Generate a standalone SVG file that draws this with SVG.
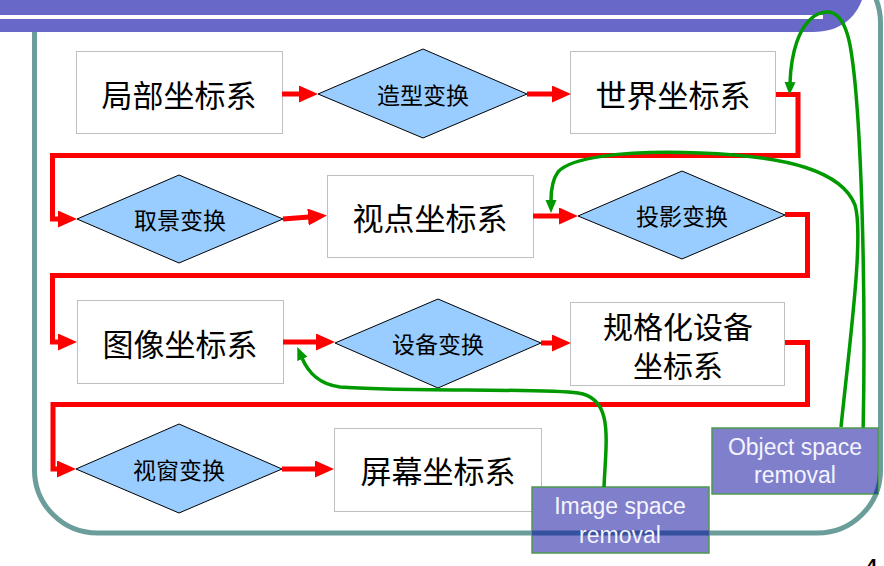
<svg xmlns="http://www.w3.org/2000/svg" width="884" height="566" viewBox="0 0 884 566">
<style>
.box{fill:#fff;stroke:#bfbfbf;stroke-width:1}
.dia{fill:#99ccff;stroke:#000;stroke-width:1}
.t1{font-family:"Noto Sans CJK SC","Noto Sans",sans-serif;font-size:31px;fill:#000;text-anchor:middle;dominant-baseline:central}
.t3{font-family:"Noto Sans CJK SC","Noto Sans",sans-serif;font-size:30px;fill:#000;text-anchor:middle;dominant-baseline:central}
.t2{font-family:"Noto Sans CJK SC","Noto Sans",sans-serif;font-size:23px;fill:#000;text-anchor:middle;dominant-baseline:central}
.red{fill:none;stroke:#ff0000;stroke-width:5;stroke-linejoin:miter}
.grn{fill:none;stroke:#009900;stroke-width:3.5}
.lbl{fill:#7f7fcb;stroke:#4e9a4e;stroke-width:1.5}
.lt{font-family:"Liberation Sans",Arial,sans-serif;font-size:23px;fill:#f4f4ff;text-anchor:middle}
</style>
<defs>
<marker id="ar" markerUnits="userSpaceOnUse" markerWidth="22" markerHeight="20" refX="1" refY="8.5" orient="auto">
<path d="M0,0 L19,8.5 L0,17 z" fill="#ff0000"/>
</marker>
<marker id="ag" markerUnits="userSpaceOnUse" markerWidth="14" markerHeight="12" refX="1" refY="5.5" orient="auto">
<path d="M0,0 L13,5.5 L0,11 z" fill="#009900"/>
</marker>
<clipPath id="lblclip">
<rect x="532" y="487" width="177" height="66"/>
<rect x="712" y="428" width="166" height="66"/>
</clipPath>
</defs>

<g id="frame">
<rect x="34.5" y="-40" width="846" height="573" rx="63" ry="63" fill="none" stroke="#6b9e9b" stroke-width="5"/>
</g>
<g id="topbar">
<path d="M0,0 H862 C855,18 840,32 813,32 H0 z" fill="#6868c8"/>
<rect x="0" y="15" width="823" height="4" fill="#fff"/>
</g>

<g id="n1"><rect class="box" x="76.5" y="51.5" width="206" height="82"/><text class="t1" x="179" y="93">局部坐标系</text></g>
<g id="n2"><polygon class="dia" points="318,94 423,49 527,94 423,138"/><text class="t2" x="423" y="94">造型变换</text></g>
<g id="n3"><rect class="box" x="570.5" y="51.5" width="205" height="82"/><text class="t1" x="673" y="93">世界坐标系</text></g>

<g id="n4"><polygon class="dia" points="77,219 179,175 283,219 179,263"/><text class="t2" x="180" y="219">取景变换</text></g>
<g id="n5"><rect class="box" x="327.5" y="175.5" width="206" height="82"/><text class="t1" x="430" y="216">视点坐标系</text></g>
<g id="n6"><polygon class="dia" points="578,216 682,171 785,215 682,259"/><text class="t2" x="682" y="215">投影变换</text></g>

<g id="n7"><rect class="box" x="77.5" y="300.5" width="206" height="83"/><text class="t1" x="180" y="342">图像坐标系</text></g>
<g id="n8"><polygon class="dia" points="335,343 438,299 541,343 438,388"/><text class="t2" x="438" y="343">设备变换</text></g>
<g id="n9"><rect class="box" x="570.5" y="302.5" width="214" height="83"/><text class="t3" x="678" y="325">规格化设备</text><text class="t3" x="678" y="364">坐标系</text></g>

<g id="n10"><polygon class="dia" points="76,469 179,424 282,469 179,513"/><text class="t2" x="179" y="469">视窗变换</text></g>
<g id="n11"><rect class="box" x="334.5" y="428.5" width="207" height="83"/><text class="t1" x="438" y="469">屏幕坐标系</text></g>

<g id="connectors">
<path class="red" d="M282,94 H300" marker-end="url(#ar)"/>
<path class="red" d="M527,94 H553" marker-end="url(#ar)"/>
<path class="red" d="M776,94.5 H798 V155.5 H52.5 V219 H59" marker-end="url(#ar)"/>
<path class="red" d="M283,219 L309,217" marker-end="url(#ar)"/>
<path class="red" d="M533,216 H560" marker-end="url(#ar)"/>
<path class="red" d="M785,214.5 H807.5 V275.5 H52.5 V342 H59" marker-end="url(#ar)"/>
<path class="red" d="M283,342 H317" marker-end="url(#ar)"/>
<path class="red" d="M541,343 H553" marker-end="url(#ar)"/>
<path class="red" d="M785,342.5 H807.5 V404.5 H53 V469 H58" marker-end="url(#ar)"/>
<path class="red" d="M282,469 H316" marker-end="url(#ar)"/>

<path class="grn" d="M863,437 C866,300 862,110 850,45 C844,15 833,8 818,14 C798,24 791,55 790,83" marker-end="url(#ag)"/>
<path class="grn" d="M841,427 C850,340 864,235 855,205 C842,172 790,156 700,153 C620,150 570,158 558,172 C552,180 551,190 551,201" marker-end="url(#ag)"/>
</g>

<g id="objlabel">
<rect class="lbl" x="712" y="428" width="166" height="66"/>
</g>
<g id="imglabel">
<rect class="lbl" x="532" y="487" width="177" height="66"/>
</g>
<g id="overlap" clip-path="url(#lblclip)">
<rect x="34.5" y="-40" width="846" height="573" rx="63" ry="63" fill="none" stroke="#34509e" stroke-width="5"/>
</g>
<g id="connectors2">
<path class="grn" d="M604,487 C606,440 614,398 578,393 C540,388 400,392 340,387 C318,384 308,372 302,358" marker-end="url(#ag)"/>
</g>
<g id="labeltext">
<text class="lt" x="795" y="455">Object space</text>
<text class="lt" x="795" y="483">removal</text>
<text class="lt" x="620" y="514">Image space</text>
<text class="lt" x="620" y="543">removal</text>
</g>
<text x="866" y="573" font-family="Liberation Sans, Arial, sans-serif" font-size="20" font-weight="bold" fill="#000">4</text>
</svg>
